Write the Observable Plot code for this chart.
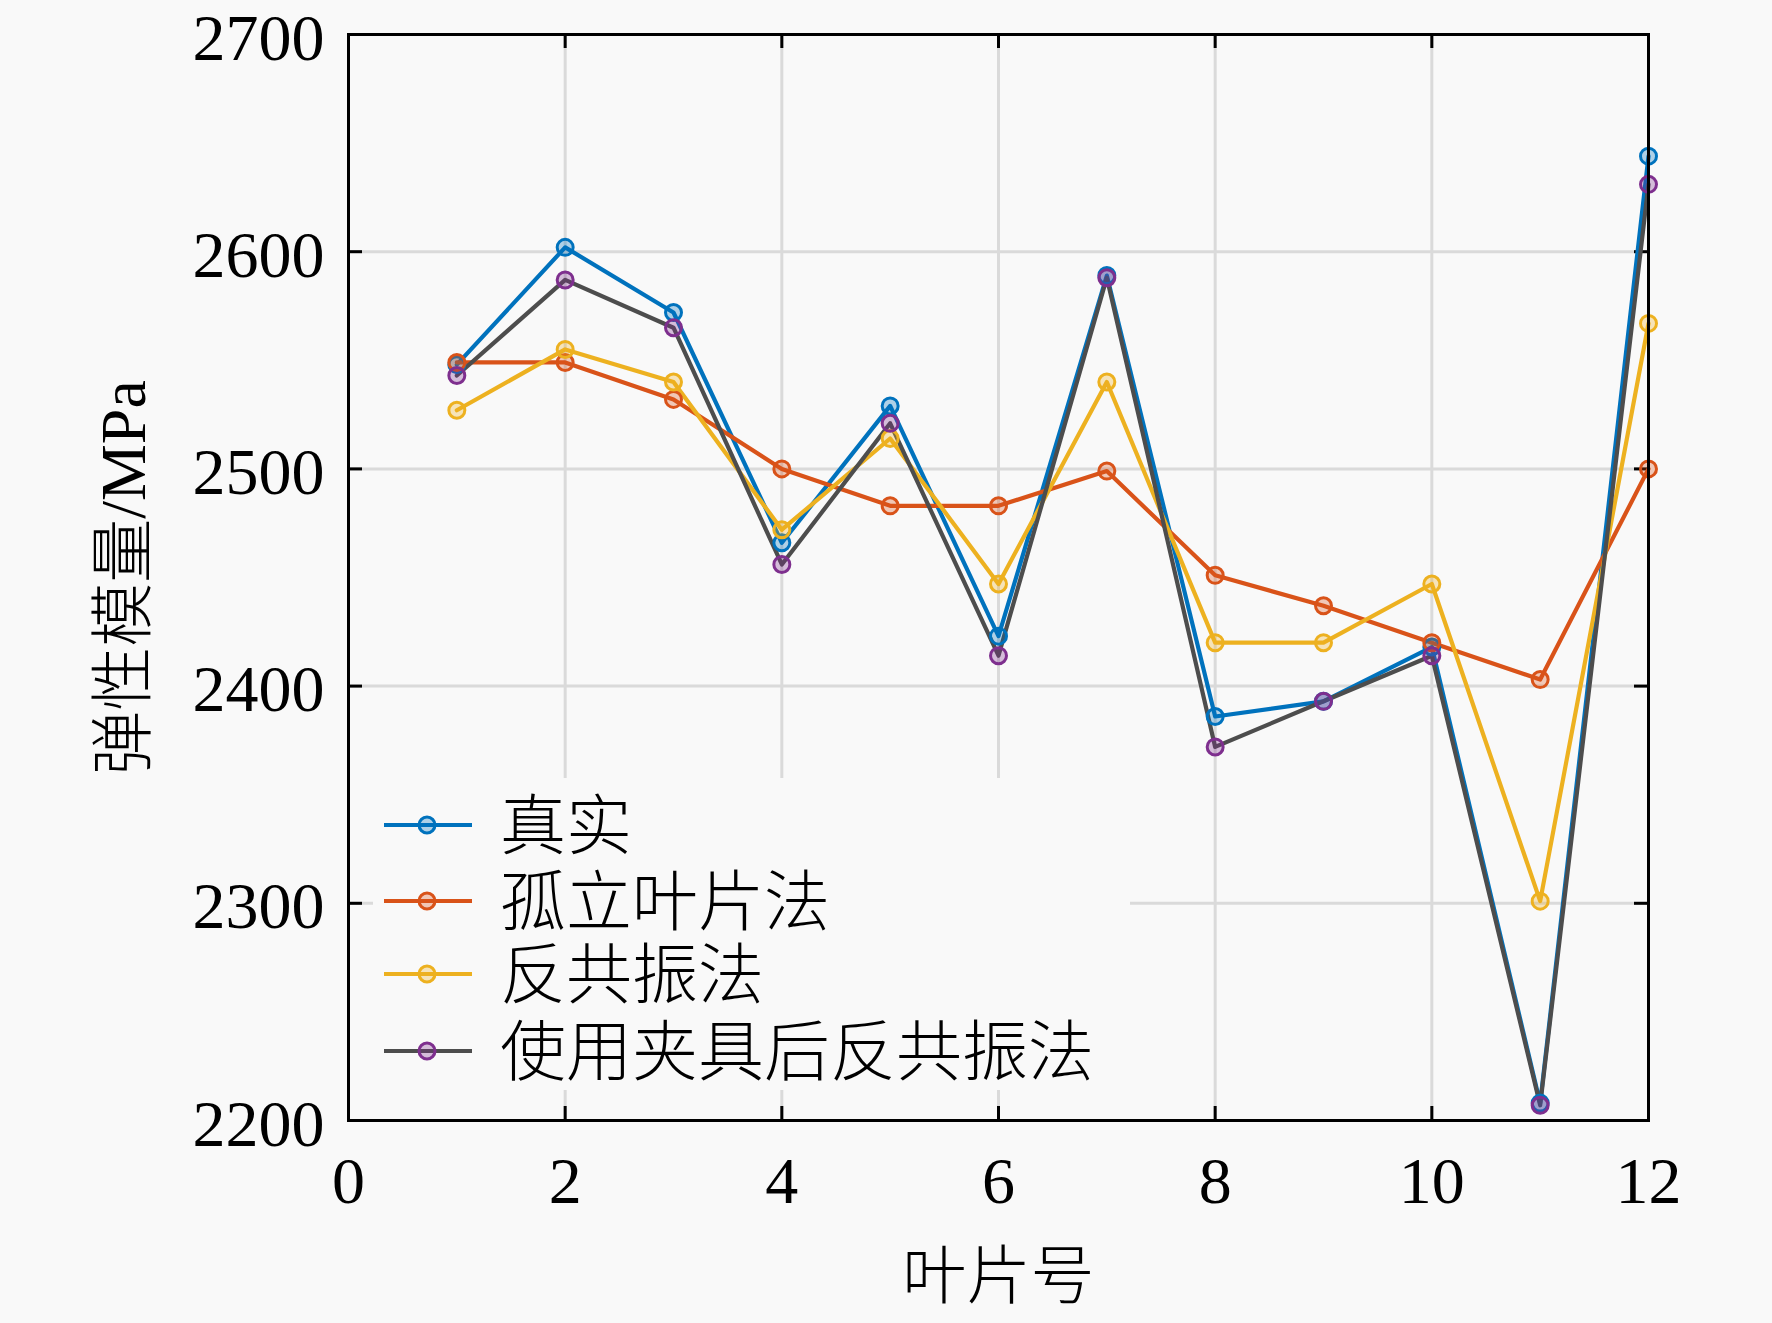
<!DOCTYPE html>
<html>
<head>
<meta charset="utf-8">
<script src="https://cdn.jsdelivr.net/npm/d3@7"></script>
<script src="https://cdn.jsdelivr.net/npm/@observablehq/plot@0.6"></script>
<style>
  html, body { margin: 0; padding: 0; background: #f9f9f9; }
  #wrap { position: relative; width: 1772px; height: 1323px; }
  #legend { position: absolute; background: #f9f9f9; }
</style>
</head>
<body>
<div id="wrap"></div>
<script>
// ---- data ----
const blades = [1, 2, 3, 4, 5, 6, 7, 8, 9, 10, 11, 12];
const seriesNames = ["真实", "孤立叶片法", "反共振法", "使用夹具后反共振法"];
const trueVals = [2548, 2602, 2572, 2466, 2529, 2423, 2589, 2386, 2393, 2418, 2208, 2644];
const isolatedVals = [2549, 2549, 2532, 2500, 2483, 2483, 2499, 2451, 2437, 2420, 2403, 2500];
const antiresVals = [2527, 2555, 2540, 2472, 2514, 2447, 2540, 2420, 2420, 2447, 2301, 2567];
const fixtureVals = [2543, 2587, 2565, 2456, 2521, 2414, 2588, 2372, 2393, 2414, 2207, 2631];
const xTicks = [0, 2, 4, 6, 8, 10, 12];
const yTicks = [2200, 2300, 2400, 2500, 2600, 2700];
const xLabel = "叶片号";
const yLabel = "弹性模量/MPa";

// ---- styles ----
const lineColors = ["#0072BD", "#D95319", "#EDB120", "#4d4d4d"];
const dotColors = ["#0072BD", "#D95319", "#EDB120", "#7E2F8E"];
const allVals = [trueVals, isolatedVals, antiresVals, fixtureVals];

const W = 1772, H = 1323;
const mL = 348, mR = 124, mT = 34, mB = 203;
const plotW = W - mL - mR, plotH = H - mT - mB;
const tickLen = 14;
const fontFam = "'Liberation Serif', 'Noto Sans CJK SC', serif";

const rows = [];
seriesNames.forEach((s, i) => {
  blades.forEach((b, j) => rows.push({series: s, idx: i, x: b, y: allVals[i][j]}));
});

const lineMarks = seriesNames.map((s, i) =>
  Plot.line(rows.filter(d => d.idx === i), {x: "x", y: "y", stroke: lineColors[i], strokeWidth: 4.2}));
const dotMarks = seriesNames.map((s, i) =>
  Plot.dot(rows.filter(d => d.idx === i), {x: "x", y: "y", r: 8, stroke: dotColors[i], strokeWidth: 3, fill: dotColors[i], fillOpacity: 0.3}));

const chart = Plot.plot({
  width: W,
  height: H,
  marginLeft: mL, marginRight: mR, marginTop: mT, marginBottom: mB,
  x: {domain: [0, 12]},
  y: {domain: [2200, 2700]},
  style: {background: "#f9f9f9", fontFamily: fontFam, fontSize: "64px", color: "black"},
  marks: [
    Plot.gridX(xTicks, {stroke: "#dadada", strokeOpacity: 1, strokeWidth: 3}),
    Plot.gridY(yTicks, {stroke: "#dadada", strokeOpacity: 1, strokeWidth: 3}),
    Plot.ruleX(xTicks, {insetBottom: plotH - tickLen, stroke: "black", strokeWidth: 3}),
    Plot.ruleX(xTicks, {insetTop: plotH - tickLen, stroke: "black", strokeWidth: 3}),
    Plot.ruleY(yTicks, {insetRight: plotW - tickLen, stroke: "black", strokeWidth: 3}),
    Plot.ruleY(yTicks, {insetLeft: plotW - tickLen, stroke: "black", strokeWidth: 3}),
    Plot.axisX(xTicks, {tickSize: 0, tickPadding: 36, label: null, fontSize: 66, fontFamily: fontFam, tickFormat: d3.format("d")}),
    Plot.axisY(yTicks, {tickSize: 0, tickPadding: 24, label: null, fontSize: 66, fontFamily: fontFam, tickFormat: d3.format("d"), dy: 4}),
    ...lineMarks,
    ...dotMarks,
    Plot.frame({stroke: "black", strokeWidth: 3}),
    Plot.text([xLabel], {text: d => d, frameAnchor: "bottom", dy: 157, fontSize: 64, fontWeight: 300, fontFamily: fontFam, fill: "black", lineAnchor: "middle"}),
    Plot.text([yLabel], {text: d => d, frameAnchor: "left", dx: -224, rotate: -90, fontSize: 64, fontWeight: 300, fontFamily: fontFam, fill: "black", lineAnchor: "middle", textAnchor: "middle"})
  ]
});

const wrap = document.getElementById("wrap");
wrap.appendChild(chart);

// ---- legend (inside plot, lower left) ----
const leg = document.createElement("div");
leg.id = "legend";
const legLeft = 373, legTop = 778, legW = 757, legH = 312;
leg.style.left = legLeft + "px";
leg.style.top = legTop + "px";
leg.style.width = legW + "px";
leg.style.height = legH + "px";
wrap.appendChild(leg);

const rowY = [47, 123, 196, 273];
const svg = d3.select(leg).append("svg").attr("width", legW).attr("height", legH);
seriesNames.forEach((s, i) => {
  const g = svg.append("g").attr("transform", `translate(0,${rowY[i]})`);
  g.append("line").attr("x1", 11).attr("x2", 99).attr("y1", 0).attr("y2", 0)
    .attr("stroke", lineColors[i]).attr("stroke-width", 4.2);
  g.append("circle").attr("cx", 54).attr("cy", 0).attr("r", 8)
    .attr("stroke", dotColors[i]).attr("stroke-width", 3)
    .attr("fill", dotColors[i]).attr("fill-opacity", 0.3);
  g.append("text").attr("x", 127).attr("y", 0).attr("dy", "0.36em")
    .attr("font-family", fontFam).attr("font-size", 66).attr("font-weight", 300)
    .attr("fill", "black").text(s);
});
</script>
</body>
</html>
